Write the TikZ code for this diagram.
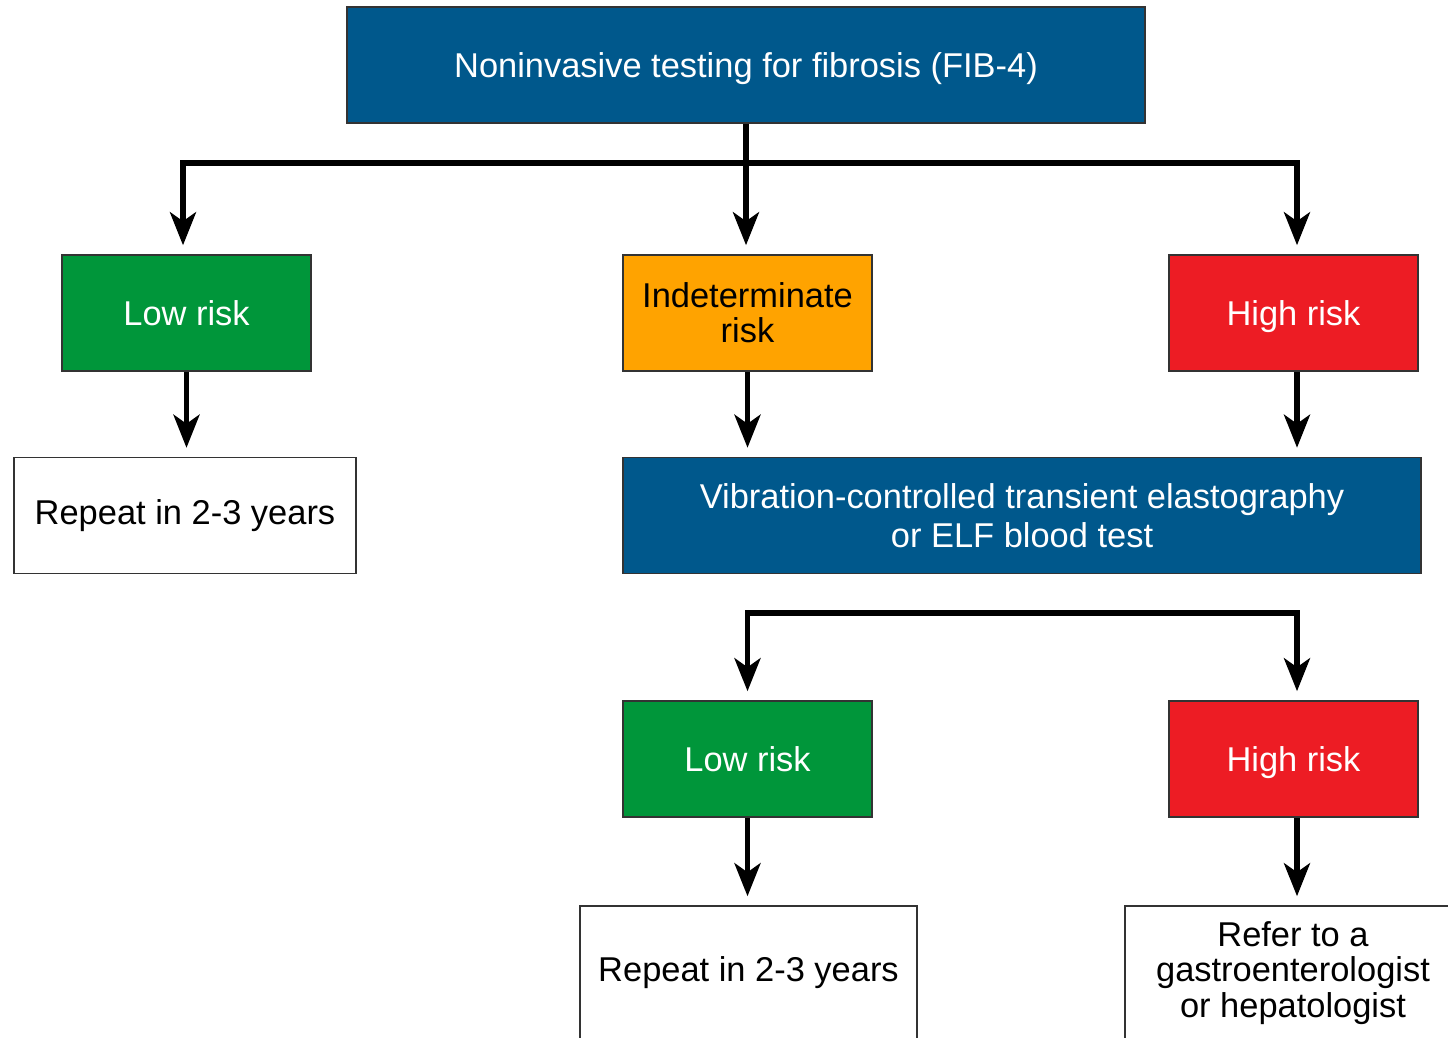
\documentclass[tikz,border=0pt]{standalone}
\usepackage{fontspec}
\setmainfont{Liberation Sans}
\usetikzlibrary{positioning, arrows.meta, calc}
\definecolor{fibblue}{RGB}{0,88,140}
\definecolor{riskgreen}{RGB}{0,150,58}
\definecolor{riskorange}{RGB}{255,163,0}
\definecolor{riskred}{RGB}{237,28,36}

\begin{document}
\begin{tikzpicture}[
        x=0.02cm, y=-0.02cm,
        every node/.style={rectangle, draw=black!80, line width=0.9pt, align=center,
          inner sep=0pt, font=\fontsize{19.6}{20}\selectfont},
        bluebox/.style={fill=fibblue, text=white, minimum width=15.96cm, minimum height=2.32cm},
        riskbox/.style={text=white, minimum width=4.98cm, minimum height=2.32cm},
        plainbox/.style={fill=white, text=black, minimum height=2.32cm},
        arr/.style={line width=3pt, line join=miter,
          -{Stealth[length=0.66cm, width=0.52cm, inset=0.18cm]}, shorten >=0.18cm}
      ]
        \useasboundingbox (0,0) rectangle (1448,1038);

        % top level
        \node[bluebox, text depth=0pt] (fib) at (746,65) {Noninvasive testing for fibrosis (FIB-4)};
        \node[riskbox, fill=riskgreen] (low1) at (186.5,313) {Low risk};
        \node[riskbox, fill=riskorange, text=black] (ind) at (747.5,313) {Indeterminate\\risk};
        \node[riskbox, fill=riskred, text depth=0pt] (high1) at (1293.5,313) {High risk};
        \node[plainbox, minimum width=6.84cm] (rep1) at (185,515.5) {Repeat in 2-3 years};
        \node[bluebox, font=\fontsize{19.6}{22}\selectfont] (vcte) at (1022,515.5) {Vibration-controlled transient elastography\\or ELF blood test};

        % second test
        \node[riskbox, fill=riskgreen] (low2) at (747.5,759) {Low risk};
        \node[riskbox, fill=riskred, text depth=0pt] (high2) at (1293.5,759) {High risk};
        \node[plainbox, minimum width=6.74cm, minimum height=2.68cm] (rep2) at (748.5,973) {Repeat in 2-3 years};
        \node[plainbox, minimum width=6.72cm, minimum height=2.68cm] (refer) at (1293,973) {Refer to a\\gastroenterologist\\or hepatologist};

        \coordinate (split1) at (746,163);
        \coordinate (split2) at (1022,613);

        \draw[arr] (fib.south) |- ([xshift=-0.07cm]low1.north |- split1) -- ([xshift=-0.07cm]low1.north);
        \draw[arr] (fib.south) |- ([xshift=0.07cm]high1.north |- split1) -- ([xshift=0.07cm]high1.north);
        \draw[arr] (split1) -- (split1 |- ind.north);
        \draw[arr] (low1.south) -- (low1.south |- rep1.north);
        \draw[arr] (ind.south) -- (ind.south |- vcte.north);
        \draw[arr] ([xshift=0.07cm]high1.south) -- ([xshift=0.07cm]high1.south |- vcte.north);

        \draw[arr] (split2 -| high2.north) -- (split2 -| low2.north) -- (low2.north);
        \draw[arr] (split2 -| low2.north) -- ([xshift=0.07cm]split2 -| high2.north) -- ([xshift=0.07cm]high2.north);
        \draw[arr] (low2.south) -- (low2.south |- rep2.north);
        \draw[arr] ([xshift=0.07cm]high2.south) -- ([xshift=0.07cm]high2.south |- refer.north);
      \end{tikzpicture}
\end{document}
